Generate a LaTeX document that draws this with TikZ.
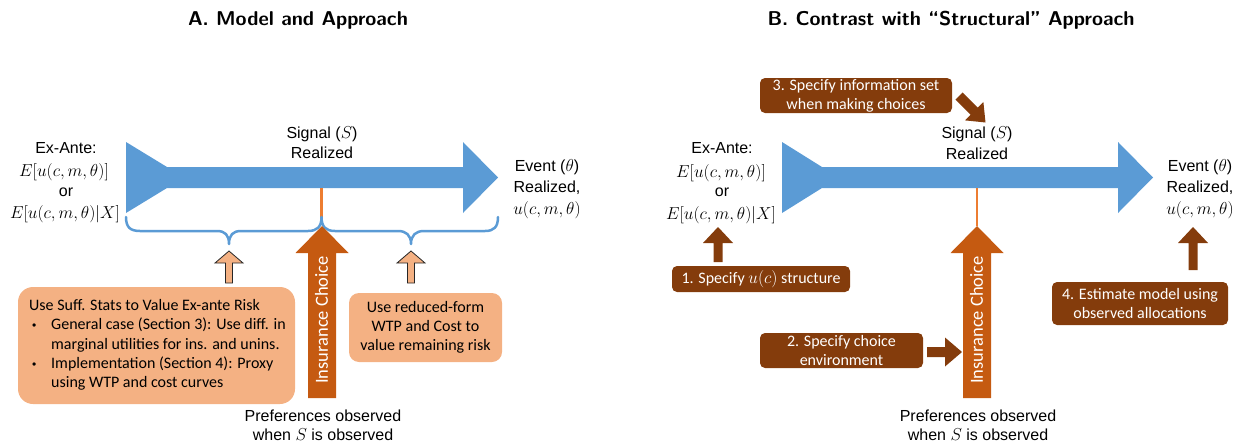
\documentclass[tikz,border=0pt]{standalone}
\usepackage[no-math]{fontspec}
\setmainfont{Liberation Sans}
\newfontfamily\calfont{Carlito}
\newfontfamily\bulfont{Liberation Sans}
\usetikzlibrary{calc}
\definecolor{blueA}{HTML}{5B9BD5}
\definecolor{orangeL}{HTML}{ED7D31}
\definecolor{orangeD}{HTML}{C55A11}
\definecolor{peach}{HTML}{F4B183}
\definecolor{brownB}{HTML}{843C0C}
% #1 style, #2 from, #3 to, #4 half shaft width, #5 half head width, #6 head length
\newcommand\blockarrow[6]{%
  \coordinate (tmpH) at ($(#3)!#6!(#2)$);
  \path[#1] ($(#2)!#4!90:(#3)$) -- ($(tmpH)!#4!90:(#3)$) -- ($(tmpH)!#5!90:(#3)$) -- (#3)
    -- ($(tmpH)!#5!-90:(#3)$) -- ($(tmpH)!#4!-90:(#3)$) -- ($(#2)!#4!-90:(#3)$) -- cycle;
}
\newcommand\bul{\makebox[22pt][l]{\hspace*{3pt}{\bulfont\fontsize{12}{14}\selectfont\textbullet}}}
\begin{document}
\begin{tikzpicture}[x=1pt,y=-1pt,
  title/.style={inner sep=0pt, font=\sffamily\bfseries\fontsize{20}{24}\selectfont, text height=13.9pt, text depth=0pt},
  lab/.style={inner sep=0pt, font=\fontsize{16}{19}\selectfont, text height=11.5pt, text depth=0pt},
  mlab/.style={inner sep=0pt, font=\fontsize{17}{20}\selectfont, text height=11.5pt, text depth=0pt},
  peachbox/.style={fill=peach, draw=none, inner sep=0pt, font=\calfont\fontsize{16}{19}\selectfont, align=center},
  brownbox/.style={fill=brownB, draw=none, rounded corners=5pt, inner sep=0pt, text=white, font=\calfont\fontsize{16}{19}\selectfont, align=center},
  bigarrowshape/.style={fill=blueA, draw=none},
  brace/.style={draw=blueA, line width=2.5pt, line join=round, line cap=round},
  sigline/.style={draw=orangeL, line width=2.5pt},
  choicearrow/.style={fill=orangeD, draw=none},
  choicetext/.style={rotate=90, inner sep=0pt, text=white, font=\calfont\fontsize{18.5}{22}\selectfont, text height=11.9pt, text depth=0pt},
  peacharrow/.style={fill=peach, draw=black!85, line width=0.8pt, line join=miter},
  brownarrow/.style={fill=brownB, draw=none}
]
\useasboundingbox (0,0) rectangle (1246,444);

% ---------------- Panel A ----------------
\node[title] (titleA) at (298,19) {A. Model and Approach};

\path[bigarrowshape] (126,142) -- (167,167) -- (463,167) -- (463,142) -- (498,177.5)
  -- (463,213) -- (463,188) -- (167,188) -- (126,213) -- cycle;

\node[lab] (exA1) at (66,148) {Ex-Ante:};
\node[mlab] (exA2) at (64,171) {$E[u(c,m,\theta)]$};
\node[lab] (exA3) at (66,191) {or};
\node[mlab] (exA4) at (65,213) {$E[u(c,m,\theta)|X]$};

\node[lab] (sigA1) at (322,133) {Signal ($S$)};
\node[lab] (sigA2) at (322,153) {Realized};

\node[lab] (evA1) at (547,166) {Event ($\theta$)};
\node[lab] (evA2) at (547,187) {Realized,};
\node[mlab] (evA3) at (547,209) {$u(c,m,\theta)$};

\coordinate (sigAtop) at (321.5,188);
\coordinate (sigAbot) at (321.5,217);
\draw[sigline] (sigAtop) -- (sigAbot);

\draw[brace] (126,217) .. controls (126,227) and (130,231) .. (140,231) -- (217,231)
  .. controls (225,231) and (229,235) .. (229,244)
  .. controls (229,235) and (233,231) .. (241,231) -- (308,231)
  .. controls (317,231) and (321.5,227) .. (321.5,217)
  .. controls (321.5,227) and (326,231) .. (335,231) -- (398,231)
  .. controls (406,231) and (411,235) .. (411,244)
  .. controls (411,235) and (416,231) .. (424,231) -- (485,231)
  .. controls (494,231) and (498,227) .. (498,217);

% Insurance choice arrow A
\coordinate (icAs) at (322,398);
\coordinate (icAt) at (322,226);
\blockarrow{choicearrow}{icAs}{icAt}{14pt}{26.5pt}{27pt}
\node[choicetext] (icA) at (322,320) {Insurance Choice};

\node[lab] (prefA1) at (323,416) {Preferences observed};
\node[lab] (prefA2) at (323,435) {when $S$ is observed};

% boxes A
\node[peachbox, rounded corners=15pt, minimum width=277pt, minimum height=117pt] (boxA1) at (156.5,345.5) {};
\node[inner sep=0pt, anchor=west, align=left, font=\calfont\fontsize{16}{19.3}\selectfont] (boxA1txt) at (29,345) {%
Use Suff. Stats to Value Ex-ante Risk\\
\bul General case (Section 3): Use diff. in\\
\hspace*{22pt}marginal utilities for ins. and unins.\\
\bul Implementation (Section 4): Proxy\\
\hspace*{22pt}using WTP and cost curves};

\node[peachbox, rounded corners=10pt, minimum width=153pt, minimum height=69pt] (boxA2) at (425.5,327.5)
  {Use reduced-form\\WTP and Cost to\\value remaining risk};

\coordinate (paA1s) at (229,283);
\coordinate (paA1t) at (229,251);
\blockarrow{peacharrow}{paA1s}{paA1t}{3.5pt}{14pt}{12pt}
\coordinate (paA2s) at (411,283);
\coordinate (paA2t) at (411,251);
\blockarrow{peacharrow}{paA2s}{paA2t}{3.5pt}{14pt}{12pt}

% ---------------- Panel B ----------------
\node[title] (titleB) at (951,19) {B. Contrast with “Structural” Approach};

\path[bigarrowshape] (782,142) -- (822,167) -- (1118,167) -- (1118,142) -- (1153,177.5)
  -- (1118,213) -- (1118,188) -- (822,188) -- (782,213) -- cycle;

\node[lab] (exB1) at (722,148) {Ex-Ante:};
\node[mlab] (exB2) at (721,172) {$E[u(c,m,\theta)]$};
\node[lab] (exB3) at (722,191) {or};
\node[mlab] (exB4) at (721,214) {$E[u(c,m,\theta)|X]$};

\node[lab] (sigB1) at (977,133) {Signal ($S$)};
\node[lab] (sigB2) at (977,154) {Realized};

\node[lab] (evB1) at (1200,166) {Event ($\theta$)};
\node[lab] (evB2) at (1200,187) {Realized,};
\node[mlab] (evB3) at (1200,209) {$u(c,m,\theta)$};

\coordinate (sigBtop) at (977,188);
\coordinate (sigBbot) at (977,226);
\draw[sigline] (sigBtop) -- (sigBbot);

\coordinate (icBs) at (977,398);
\coordinate (icBt) at (977,226);
\blockarrow{choicearrow}{icBs}{icBt}{14pt}{26.5pt}{27pt}
\node[choicetext] (icB) at (977,320) {Insurance Choice};

\node[lab] (prefB1) at (978,416) {Preferences observed};
\node[lab] (prefB2) at (978,435) {when $S$ is observed};

\node[brownbox, minimum width=192pt, minimum height=35pt] (boxB3) at (856,95.5)
  {3. Specify information set\\when making choices};
\node[brownbox, minimum width=178pt, minimum height=26pt] (boxB1) at (761,279)
  {1. Specify $u(c)$ structure};
\node[brownbox, minimum width=163pt, minimum height=35pt] (boxB2) at (841.5,350.5)
  {2. Specify choice\\environment};
\node[brownbox, minimum width=176pt, minimum height=43pt] (boxB4) at (1140,303.5)
  {4. Estimate model using\\observed allocations};

\coordinate (brB1s) at (718,262);
\coordinate (brB1t) at (718,227);
\blockarrow{brownarrow}{brB1s}{brB1t}{4.5pt}{15pt}{16pt}
\coordinate (brB4s) at (1193,270);
\coordinate (brB4t) at (1193,227);
\blockarrow{brownarrow}{brB4s}{brB4t}{4.5pt}{15pt}{16pt}
\coordinate (brB2s) at (927,352);
\coordinate (brB2t) at (962,352);
\blockarrow{brownarrow}{brB2s}{brB2t}{5pt}{14.5pt}{17pt}
\coordinate (brB3s) at (959,96);
\coordinate (brB3t) at (985.5,122.5);
\blockarrow{brownarrow}{brB3s}{brB3t}{5pt}{13pt}{16pt}
\end{tikzpicture}
\end{document}
